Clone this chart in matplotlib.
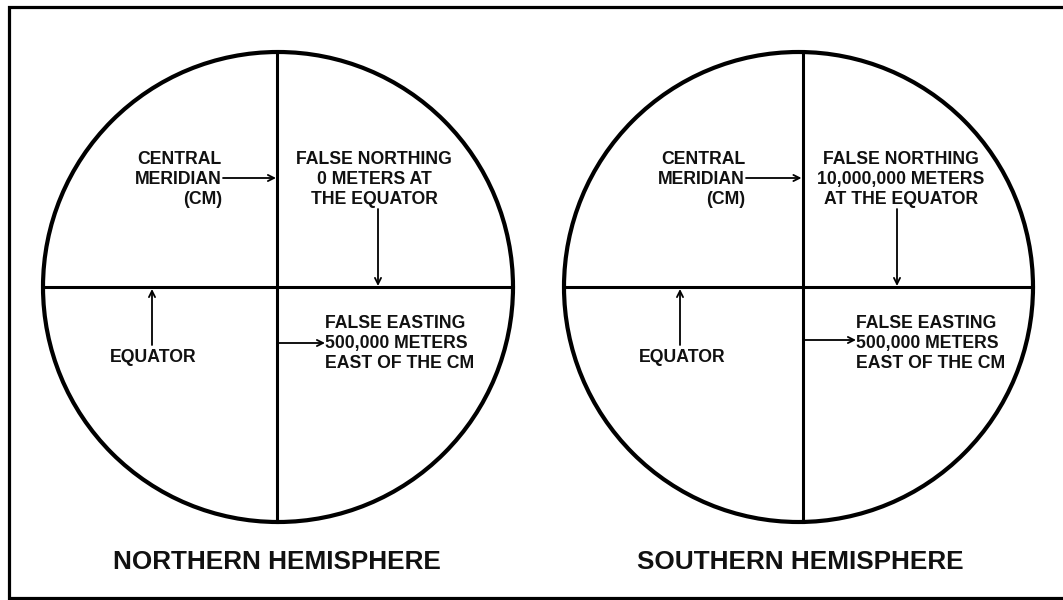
import matplotlib
matplotlib.use("Agg")
import matplotlib.pyplot as plt
from matplotlib.patches import Ellipse

plt.rcParams['font.family'] = ['Liberation Sans', 'DejaVu Sans']

# ---- diagram content ----
titles = ["NORTHERN HEMISPHERE", "SOUTHERN HEMISPHERE"]
cm_label = ["CENTRAL", "MERIDIAN", "(CM)"]
northing_labels = [
    ["FALSE NORTHING", "0 METERS AT", "THE EQUATOR"],
    ["FALSE NORTHING", "10,000,000 METERS", "AT THE EQUATOR"],
]
easting_label = ["FALSE EASTING", "500,000 METERS", "EAST OF THE CM"]
equator_label = "EQUATOR"

# ---- layout (pixel coordinates) ----
W, H = 1063, 600
circle_cx = [278, 798.5]
circle_cy = 287
circle_rx = [235, 234.5]
circle_ry = 235
cm_x = [277, 802.5]
cm_text_right = [222, 745]
northing_cx = [374, 901]
northing_arrow_x = [378, 897]
equator_arrow_x = [152, 680]
equator_text_x = [153, 682]
easting_left = [325, 856]
easting_arrow_y = [343, 340]
title_x = [276.5, 800.5]

fig = plt.figure(figsize=(W / 100, H / 100), dpi=100)
ax = fig.add_axes([0, 0, 1, 1])
ax.set_xlim(0, W)
ax.set_ylim(H, 0)
ax.axis('off')

# outer frame (right side runs off the image)
ax.plot([1080, 9, 9, 1080], [7, 7, 598, 598], color='black', lw=2.3,
        solid_joinstyle='miter', clip_on=False)

small_fs = 12.7
title_fs = 18.8
cap_small = 6.3
cap_title = 9.3


def text_line(x, yc, s, ha, fs, cap):
    ax.text(x, yc + cap, s, ha=ha, va='baseline', fontsize=fs,
            fontweight='bold', color='#111111')


def arrow(x0, y0, x1, y1):
    ax.annotate('', xy=(x1, y1), xytext=(x0, y0),
                arrowprops=dict(arrowstyle='->', lw=1.3, color='black',
                                mutation_scale=11, shrinkA=0, shrinkB=0))


line_ys = [158, 178, 198]
east_ys = [322, 342, 362]

for i in range(2):
    cx, rx = circle_cx[i], circle_rx[i]
    ax.add_patch(Ellipse((cx, circle_cy), 2 * rx, 2 * circle_ry,
                         fill=False, lw=3.0, edgecolor='black'))
    # equator and central meridian
    ax.plot([cx - rx, cx + rx], [circle_cy, circle_cy], color='black', lw=2.2)
    ax.plot([cm_x[i], cm_x[i]], [circle_cy - circle_ry, circle_cy + circle_ry],
            color='black', lw=2.2)

    # central meridian label
    for s, y in zip(cm_label, line_ys):
        text_line(cm_text_right[i], y, s, 'right', small_fs, cap_small)
    arrow(cm_text_right[i] + 1, line_ys[1], cm_x[i] - 1, line_ys[1])

    # false northing label
    for s, y in zip(northing_labels[i], line_ys):
        text_line(northing_cx[i], y, s, 'center', small_fs, cap_small)
    arrow(northing_arrow_x[i], 209, northing_arrow_x[i], circle_cy - 1)

    # equator label
    arrow(equator_arrow_x[i], 345, equator_arrow_x[i], circle_cy + 2)
    text_line(equator_text_x[i], 356, equator_label, 'center', small_fs, cap_small)

    # false easting label
    for s, y in zip(easting_label, east_ys):
        text_line(easting_left[i], y, s, 'left', small_fs, cap_small)
    arrow(cm_x[i] + 1, easting_arrow_y[i], easting_left[i], easting_arrow_y[i])

    # title
    text_line(title_x[i], 560, titles[i], 'center', title_fs, cap_title)

fig.savefig("out.png", dpi=100, facecolor='white')
